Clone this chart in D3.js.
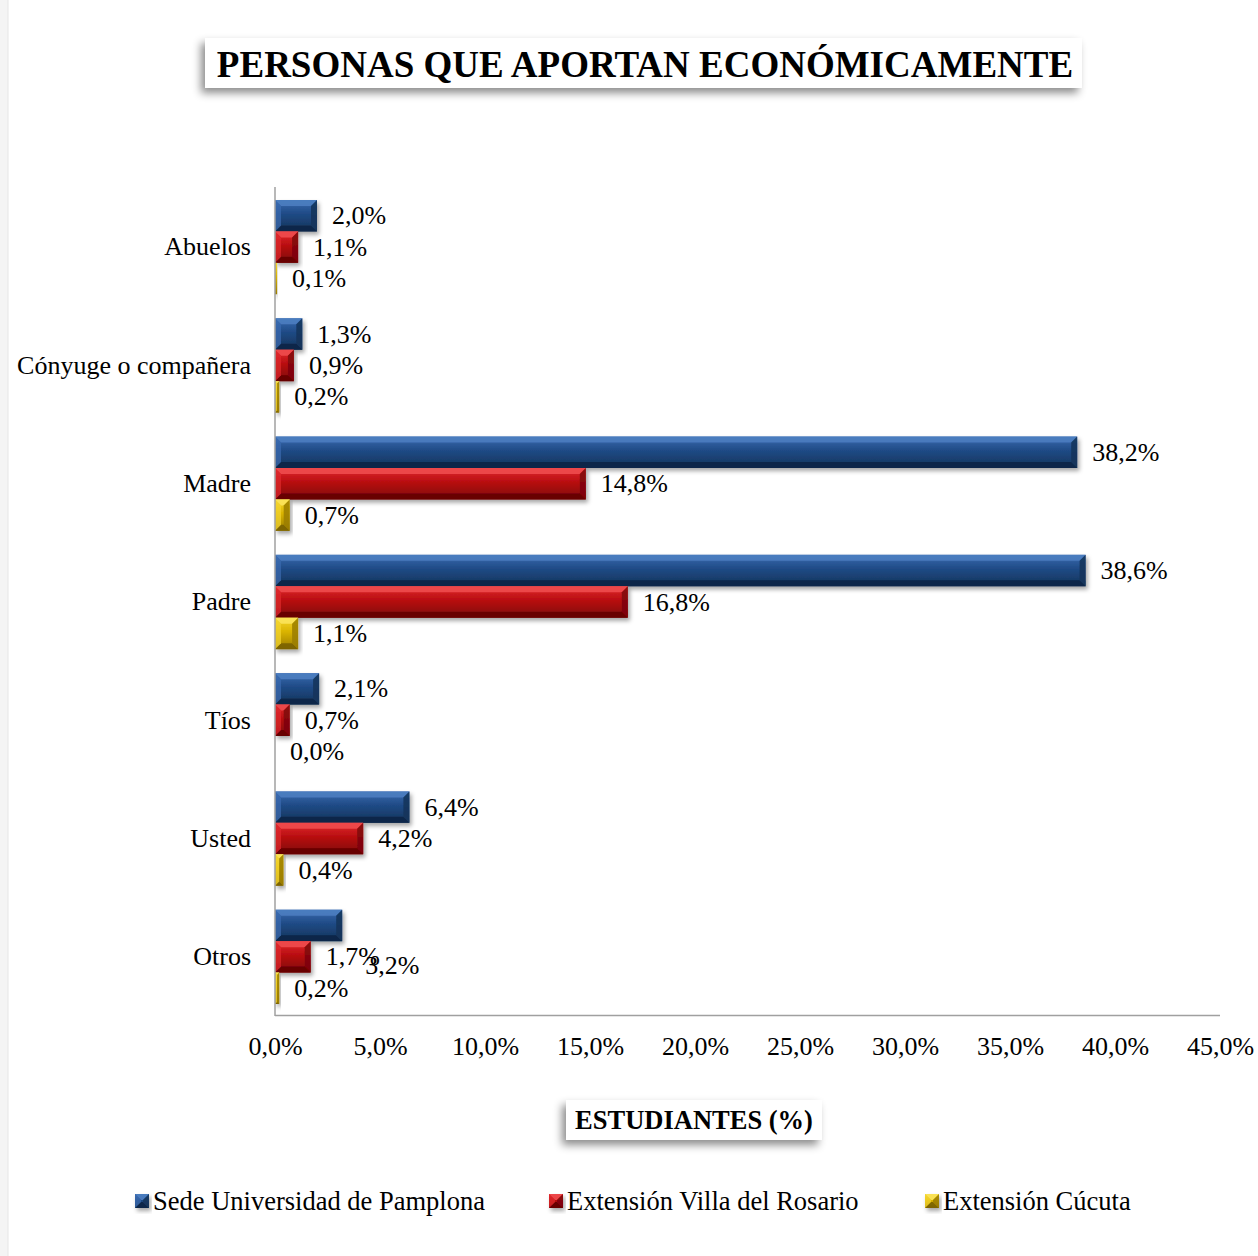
<!DOCTYPE html>
<html>
<head>
<meta charset="utf-8">
<script src="https://cdn.jsdelivr.net/npm/d3@7"></script>
<style>
  html, body { margin: 0; padding: 0; background: #ffffff; }
  svg { display: block; }
  text { font-family: "Liberation Serif", "Times New Roman", serif; fill: #000; }
</style>
</head>
<body>
<script>
const categories = ["Abuelos", "Cónyuge o compañera", "Madre", "Padre", "Tíos", "Usted", "Otros"];
const seriesNames = ["Sede Universidad de Pamplona", "Extensión Villa del Rosario", "Extensión Cúcuta"];
const sede = [2.0, 1.3, 38.2, 38.6, 2.1, 6.4, 3.2];
const villa = [1.1, 0.9, 14.8, 16.8, 0.7, 4.2, 1.7];
const cucuta = [0.1, 0.2, 0.7, 1.1, 0.0, 0.4, 0.2];
const xTicks = [0, 5, 10, 15, 20, 25, 30, 35, 40, 45];
const title = "PERSONAS QUE APORTAN ECONÓMICAMENTE";
const xTitle = "ESTUDIANTES (%)";

const W = 1258, H = 1256;
const FS = 26;
const colors = [
  { base: "#1f4a85", light: "#3a6bb0", lighter: "#4d7dc0", dark: "#143459", darker: "#0e2646" },
  { base: "#b80d10", light: "#e02a2e", lighter: "#ee4a4c", dark: "#7d0607", darker: "#640405" },
  { base: "#d9b300", light: "#f5d630", lighter: "#fbe35a", dark: "#9a7c00", darker: "#7a6200" }
];
const seriesValues = [sede, villa, cucuta];

const svg = d3.select("body").append("svg").attr("width", W).attr("height", H);
const defs = svg.append("defs");
const sh = defs.append("filter").attr("id", "shadow").attr("x", "-20%").attr("y", "-40%").attr("width", "140%").attr("height", "180%");
sh.append("feDropShadow").attr("dx", 2).attr("dy", 3).attr("stdDeviation", 2).attr("flood-color", "#000").attr("flood-opacity", 0.35);
const bsh = defs.append("filter").attr("id", "boxshadow").attr("x", "-10%").attr("y", "-50%").attr("width", "120%").attr("height", "200%");
bsh.append("feDropShadow").attr("dx", -4).attr("dy", 5).attr("stdDeviation", 4).attr("flood-color", "#000").attr("flood-opacity", 0.45);

colors.forEach((c, i) => {
  const g = defs.append("linearGradient").attr("id", "grad" + i).attr("x1", 0).attr("y1", 0).attr("x2", 0).attr("y2", 1);
  g.append("stop").attr("offset", "0%").attr("stop-color", c.light);
  g.append("stop").attr("offset", "45%").attr("stop-color", c.base);
  g.append("stop").attr("offset", "100%").attr("stop-color", c.dark);
});

// left page border
svg.append("rect").attr("x", 0).attr("y", 0).attr("width", 8).attr("height", H).attr("fill", "#f4f4f4");
svg.append("line").attr("x1", 8).attr("x2", 8).attr("y1", 0).attr("y2", H).attr("stroke", "#e6e6e6");

const x = d3.scaleLinear().domain([0, 45]).range([275, 1220]);
const y = d3.scaleBand().domain(categories).range([188, 1016]).padding(0);
const ys = d3.scaleBand().domain(seriesNames).range([12, y.bandwidth() - 12]).padding(0);

// Axes lines
svg.append("line").attr("x1", x(0)).attr("x2", x(45)).attr("y1", 1015.5).attr("y2", 1015.5).attr("stroke", "#a0a0a0").attr("stroke-width", 1.5);

// tick labels
const xAxis = d3.axisBottom(x).tickValues(xTicks).tickSize(0).tickPadding(0)
  .tickFormat(d => d.toFixed(1).replace(".", ",") + "%");
const gx = svg.append("g").attr("transform", "translate(0,1037)").call(xAxis);
gx.select(".domain").remove();
gx.selectAll("text").attr("font-family", "Liberation Serif, serif").attr("font-size", FS).attr("dy", "0.71em").attr("fill", "#000");

// category labels
const yAxis = d3.axisLeft(y).tickSize(0).tickPadding(0);
const gy = svg.append("g").attr("transform", "translate(251,0)").call(yAxis);
gy.select(".domain").remove();
gy.selectAll("text").attr("font-family", "Liberation Serif, serif").attr("font-size", FS).attr("fill", "#000").attr("dy", "0.32em");

function bevelBar(g, x0, y0, w, h, ci) {
  const c = colors[ci];
  const grp = g.append("g").attr("filter", "url(#shadow)");
  grp.append("rect").attr("x", x0).attr("y", y0).attr("width", w).attr("height", h).attr("fill", "url(#grad" + ci + ")");
  const b = Math.min(6, w / 2, h / 2);
  if (w < 3) return;
  const x1 = x0 + w, y1 = y0 + h;
  const facets = [
    [[x0, y0], [x1, y0], [x1 - b, y0 + b], [x0 + b, y0 + b], c.lighter, 0.9],
    [[x0, y1], [x1, y1], [x1 - b, y1 - b], [x0 + b, y1 - b], c.darker, 0.9],
    [[x0, y0], [x0 + b, y0 + b], [x0 + b, y1 - b], [x0, y1], c.light, 0.7],
    [[x1, y0], [x1 - b, y0 + b], [x1 - b, y1 - b], [x1, y1], c.dark, 0.85]
  ];
  facets.forEach(f => {
    grp.append("polygon").attr("points", f.slice(0, 4).map(p => p.join(",")).join(" ")).attr("fill", f[4]).attr("opacity", f[5]);
  });
}

const fmt = v => v.toFixed(1).replace(".", ",") + "%";
const barsG = svg.append("g");
const labelsG = svg.append("g");

categories.forEach((cat, i) => {
  seriesNames.forEach((s, si) => {
    const v = seriesValues[si][i];
    const by = y(cat) + ys(s);
    const bh = ys.bandwidth();
    const bw = x(v) - x(0);
    if (bw > 0) bevelBar(barsG, x(0), by, bw, bh, si);
    let lx = x(v) + 15, ly = by + bh / 2;
    // the "Otros" Sede label sits displaced in the original
    if (cat === "Otros" && si === 0) { lx = x(v) + 23; ly = by + bh + bh * 0.5 + 9; }
    labelsG.append("text").attr("x", lx).attr("y", ly).attr("dy", "0.33em")
      .attr("font-size", FS).text(fmt(v));
  });
});

// vertical axis line
svg.append("line").attr("x1", 275).attr("x2", 275).attr("y1", 187).attr("y2", 1016).attr("stroke", "#a0a0a0").attr("stroke-width", 1.5);

// Title box
svg.append("rect").attr("x", 205).attr("y", 38).attr("width", 877).attr("height", 50).attr("fill", "#fff").attr("filter", "url(#boxshadow)");
svg.append("text").attr("x", 645).attr("y", 77).attr("text-anchor", "middle")
  .attr("font-size", 37).attr("font-weight", "bold").text(title);

// x title box
svg.append("rect").attr("x", 566).attr("y", 1100).attr("width", 256).attr("height", 40).attr("fill", "#fff").attr("filter", "url(#boxshadow)");
svg.append("text").attr("x", 694).attr("y", 1129).attr("text-anchor", "middle")
  .attr("font-size", 26.5).attr("font-weight", "bold").text(xTitle);

// Legend
const legendX = [135, 549, 925];
seriesNames.forEach((s, si) => {
  const lg = svg.append("g").attr("transform", `translate(${legendX[si]},1194)`);
  bevelBar(lg, 0, 0, 14, 14, si);
  lg.append("text").attr("x", 18).attr("y", 7).attr("dy", "0.33em").attr("font-size", 26.5).text(s);
});
</script>
</body>
</html>
